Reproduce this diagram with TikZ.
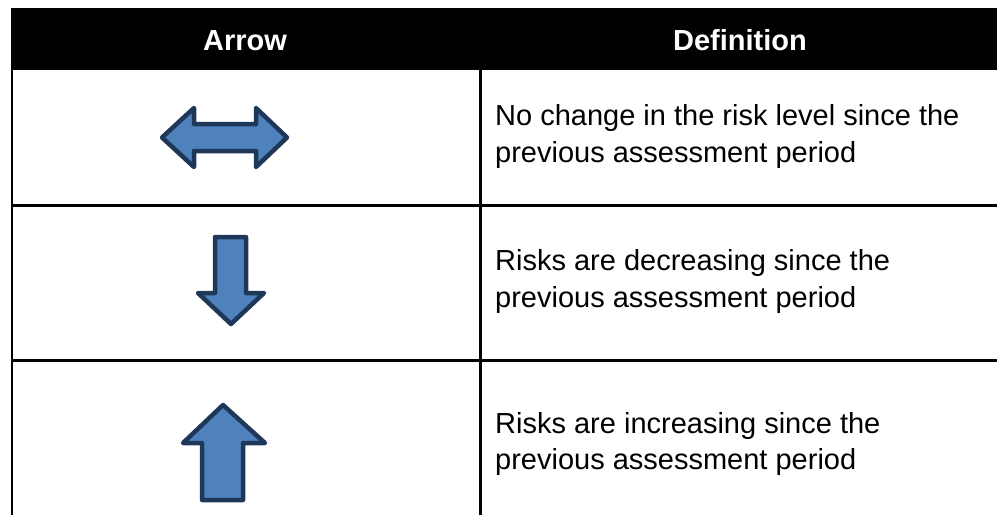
\documentclass[tikz,border=0pt]{standalone}
\usepackage{fontspec}
\setmainfont{Liberation Sans}
\definecolor{arrowfill}{RGB}{79,129,189}
\definecolor{arrowline}{RGB}{31,56,90}
\begin{document}
\begin{tikzpicture}[x=1pt,y=-1pt,
  rule/.style={line width=3pt,black},
  shapearrow/.style={fill=arrowfill,draw=arrowline,line width=4.5pt,line join=round},
  headtext/.style={text=white,font=\fontsize{29}{36}\selectfont\bfseries,anchor=base,inner sep=0pt},
  deftext/.style={font=\fontsize{29}{36}\selectfont,anchor=base west,inner sep=0pt}]
\useasboundingbox (0,0) rectangle (997,515);
% header
\fill[black] (11,8) rectangle (997,70);
\node[headtext] (harrow) at (245,50) {Arrow};
\node[headtext] (hdef) at (740,50) {Definition};
% grid
\draw[line width=2.5pt] (12,70) -- (12,515);
\draw[rule] (480,70) -- (480,515);
\draw[rule] (11,205) -- (997,205);
\draw[rule] (11,360) -- (997,360);
% row 1: double arrow
\draw[shapearrow] (162,137.5) -- (194,108) -- (194,124) -- (256,124) -- (256,108)
  -- (287,137.5) -- (256,167) -- (256,151) -- (194,151) -- (194,167) -- cycle;
\node[deftext] (d1a) at (495,125) {No change in the risk level since the};
\node[deftext] (d1b) at (495,162) {previous assessment period};
% row 2: down arrow
\draw[shapearrow] (215,237) -- (246,237) -- (246,293) -- (264,293) -- (231,324)
  -- (198,293) -- (215,293) -- cycle;
\node[deftext] (d2a) at (495,270) {Risks are decreasing since the};
\node[deftext] (d2b) at (495,307) {previous assessment period};
% row 3: up arrow
\draw[shapearrow] (202,500) -- (243,500) -- (243,443) -- (265,443) -- (223,405)
  -- (183,443) -- (202,443) -- cycle;
\node[deftext] (d3a) at (495,433) {Risks are increasing since the};
\node[deftext] (d3b) at (495,469) {previous assessment period};
\end{tikzpicture}
\end{document}
